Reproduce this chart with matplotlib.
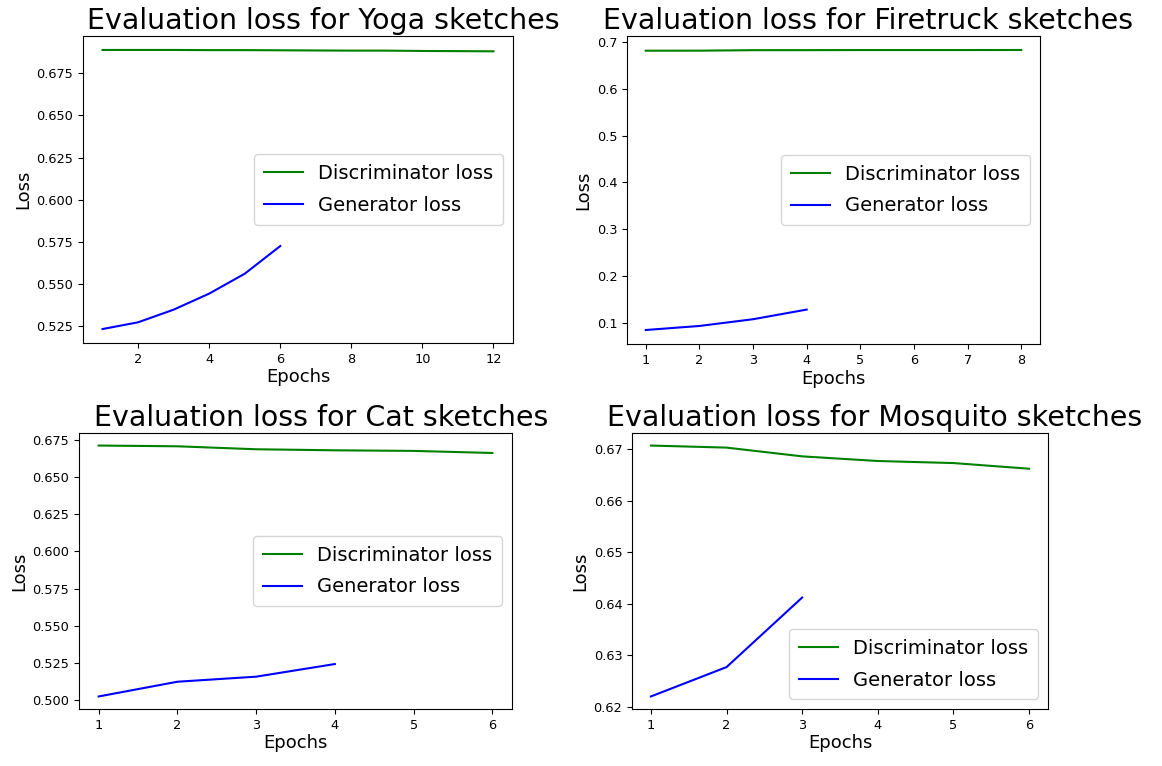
import numpy as np
import matplotlib
matplotlib.use("Agg")
import matplotlib.pyplot as plt

# titles of the four panels
titles = ["Evaluation loss for Yoga sketches", "Evaluation loss for Firetruck sketches",
          "Evaluation loss for Cat sketches", "Evaluation loss for Mosquito sketches"]

# yoga
yoga_disc = [0.6888, 0.6888, 0.6888, 0.6887, 0.6887, 0.6886, 0.6885, 0.6884, 0.6884, 0.6882, 0.6881, 0.6880]
yoga_gen = [0.5233, 0.5273, 0.5348, 0.5443, 0.5561, 0.5725]
# firetruck
fire_disc = [0.6814, 0.6815, 0.6825, 0.6826, 0.6828, 0.6828, 0.6828, 0.6829]
fire_gen = [0.085, 0.0936, 0.108, 0.1286]
# cat
cat_disc = [0.6712, 0.6707, 0.6687, 0.6680, 0.6676, 0.6662]
cat_gen = [0.5025, 0.5124, 0.5158, 0.5243]
# mosquito
mosq_disc = [0.6707, 0.6703, 0.6686, 0.6677, 0.6673, 0.6662]
mosq_gen = [0.6220, 0.6277, 0.6412]

disc_all = [yoga_disc, fire_disc, cat_disc, mosq_disc]
gen_all = [yoga_gen, fire_gen, cat_gen, mosq_gen]
legend_loc = ["center right", "center right", "center right", "lower right"]

W, H = 1162, 766
# axes boxes in pixels: left, top, right, bottom
boxes = [(83, 36, 513, 343), (627, 36, 1040, 344),
         (79, 433, 512, 709), (632, 433, 1048, 709)]
title_x = [0.56, 0.583, 0.559, 0.584]

fig = plt.figure(figsize=(W / 100, H / 100), dpi=100)

for i in range(4):
    l, t, r, b = boxes[i]
    ax = fig.add_axes([l / W, 1 - b / H, (r - l) / W, (b - t) / H])
    d = disc_all[i]
    g = gen_all[i]
    ax.plot(np.arange(1, len(d) + 1), d, color="g", lw=1.5, label="Discriminator loss")
    ax.plot(np.arange(1, len(g) + 1), g, color="b", lw=1.5, label="Generator loss")
    ax.set_title(titles[i], fontsize=20.5, x=title_x[i], pad=5)
    ax.set_xlabel("Epochs", fontsize=13, labelpad=2)
    ax.set_ylabel("Loss", fontsize=13, labelpad=3)
    ax.tick_params(labelsize=9.3)
    ax.legend(loc=legend_loc[i], fontsize=14, labelspacing=0.65, borderpad=0.5)

fig.savefig("out.png", dpi=100)
